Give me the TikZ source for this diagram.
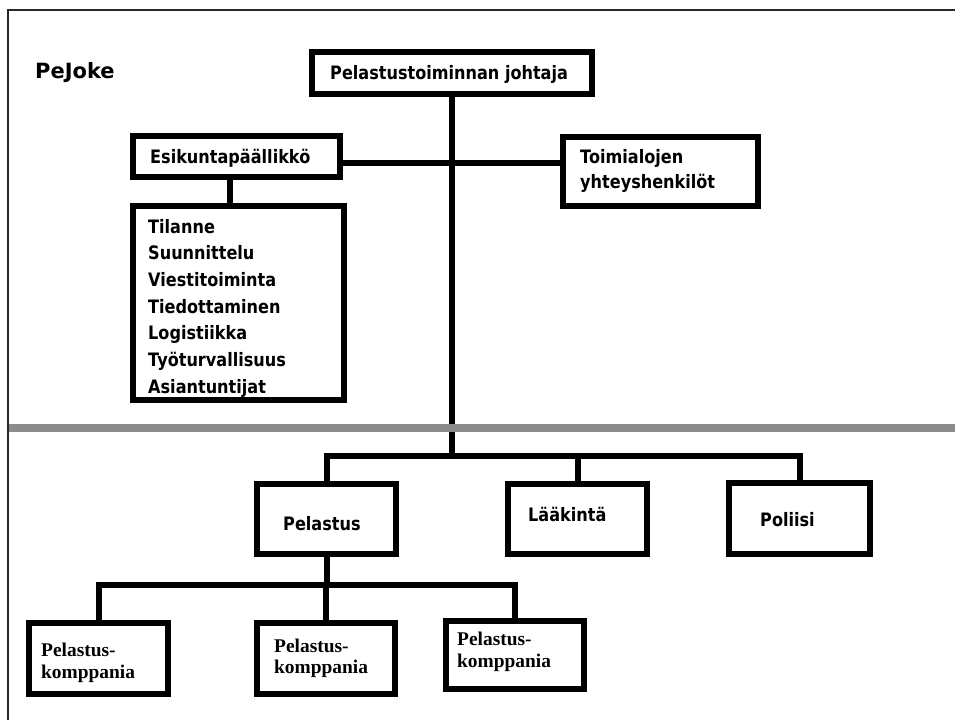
\documentclass[tikz,border=0pt]{standalone}
\usepackage{fontspec}
\newfontfamily\tah{DejaVu Sans}[UprightFont=* Bold, FakeStretch=0.87]
\newfontfamily\pjf{DejaVu Sans}[UprightFont=* Bold]
\newfontfamily\tms{Liberation Serif}[UprightFont=* Bold]
\definecolor{sepgray}{RGB}{140,140,140}
\definecolor{framec}{RGB}{40,40,40}
\tikzset{
  box/.style={draw=black, line width=6pt, inner sep=0pt, fill=white},
  conn/.style={draw=black, line width=6pt, line join=miter},
  lbl/.style={anchor=base west, inner sep=0pt, font=\tah\fontsize{18.5}{22}\selectfont},
  slbl/.style={anchor=base west, inner sep=0pt, font=\tms\fontsize{19.4}{22}\selectfont}
}
\begin{document}
\begin{tikzpicture}[x=1pt,y=-1pt]
\useasboundingbox (0,0) rectangle (955,720);
% outer frame (top and left edges)
\draw[framec, line width=2.5pt] (8,720) -- (8,10) -- (955,10);
% junction coordinates
\coordinate (hj) at (452,163);
\coordinate (ev) at (230,0);
\coordinate (bar) at (452,456);
\coordinate (bar2) at (327,585);
% boxes
\node[box, minimum width=280pt, minimum height=42pt] (top) at (452,73) {};
\node[box, minimum width=207pt, minimum height=41pt] (es) at (236.5,156.5) {};
\node[box, minimum width=195pt, minimum height=69pt] (to) at (660.5,171.5) {};
\node[box, minimum width=211pt, minimum height=194pt] (li) at (238.5,303) {};
\node[box, minimum width=139pt, minimum height=70pt] (pe) at (326.5,519) {};
\node[box, minimum width=139pt, minimum height=70pt] (la) at (577.5,519) {};
\node[box, minimum width=141pt, minimum height=71pt] (po) at (799.5,518.5) {};
\node[box, minimum width=139pt, minimum height=71pt] (k1) at (98.5,658.5) {};
\node[box, minimum width=138pt, minimum height=71pt] (k2) at (326,658.5) {};
\node[box, minimum width=138pt, minimum height=68pt] (k3) at (515,655) {};
% connectors
\draw[conn] (top.south) -- (top.south |- bar);
\draw[conn] (es.east |- hj) -- (to.west |- hj);
\draw[conn] (es.south -| ev) -- (li.north -| ev);
\draw[conn] (pe.north) -- (pe.north |- bar) -- (po.north |- bar) -- (po.north);
\draw[conn] (la.north) -- (la.north |- bar);
\draw[conn] (pe.south) -- (pe.south |- bar2);
\draw[conn] (k1.north) -- (k1.north |- bar2) -- (k3.north |- bar2) -- (k3.north);
\draw[conn] (k2.north) -- (k2.north |- bar2);
% grey separator
\draw[sepgray, line width=8pt] (9,428) -- (955,428);
% texts
\node[anchor=base west, inner sep=0pt, font=\pjf\fontsize{21}{24}\selectfont] (tpj) at (35,78) {PeJoke};
\node[lbl] (ttop) at (330,79) {Pelastustoiminnan johtaja};
\node[lbl] (tes) at (150,163) {Esikuntapäällikkö};
\node[lbl] (tto1) at (580,163) {Toimialojen};
\node[lbl] (tto2) at (580,188) {yhteyshenkilöt};
\foreach \t [count=\i from 0] in {Tilanne,Suunnittelu,Viestitoiminta,Tiedottaminen,Logistiikka,Työturvallisuus,Asiantuntijat}
  \node[lbl] (tl\i) at (148,233+26.67*\i) {\t};
\node[lbl] (tpe) at (283,530) {Pelastus};
\node[lbl] (tla) at (528,521) {Lääkintä};
\node[lbl] (tpo) at (760,526) {Poliisi};
\node[slbl] (tk1a) at (41,656) {Pelastus-};
\node[slbl] (tk1b) at (41,678) {komppania};
\node[slbl] (tk2a) at (274,652) {Pelastus-};
\node[slbl] (tk2b) at (274,673) {komppania};
\node[slbl] (tk3a) at (457,645) {Pelastus-};
\node[slbl] (tk3b) at (457,667) {komppania};
\end{tikzpicture}
\end{document}
